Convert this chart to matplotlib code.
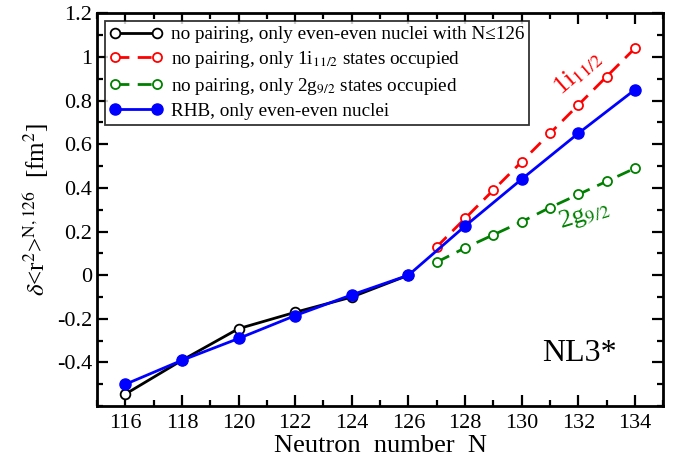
import matplotlib
matplotlib.use("Agg")
import matplotlib.pyplot as plt
from matplotlib.ticker import MultipleLocator

plt.rcParams['font.family'] = ['Liberation Serif', 'DejaVu Serif']
plt.rcParams['mathtext.fontset'] = 'stix'

# Charge radii differences relative to N=126
N_even_low = [116, 118, 120, 122, 124, 126]
r2_nopair_even = [-0.545, -0.39, -0.245, -0.17, -0.10, 0.0]

N_odd_high = [127, 128, 129, 130, 131, 132, 133, 134]
r2_i11 = [0.13, 0.26, 0.39, 0.52, 0.65, 0.78, 0.91, 1.04]
r2_g9 = [0.06, 0.125, 0.185, 0.245, 0.31, 0.37, 0.43, 0.49]

N_rhb = [116, 118, 120, 122, 124, 126, 128, 130, 132, 134]
r2_rhb = [-0.50, -0.39, -0.29, -0.185, -0.09, 0.0, 0.225, 0.44, 0.65, 0.85]

fig = plt.figure(figsize=(6.83, 4.61), dpi=100)
ax = fig.add_axes([0.142, 0.119, 0.829, 0.852])

ax.plot(N_even_low, r2_nopair_even, color='black', lw=2, marker='o', ms=7,
        mfc='white', mec='black', mew=1.3,
        label='no pairing, only even-even nuclei with N≤126')
ax.plot(N_odd_high, r2_i11, color='red', lw=2, ls=(0, (5, 3)), marker='o', ms=6.5,
        mfc='white', mec='red', mew=1.3,
        label=r'no pairing, only 1i$_{11/2}$ states occupied')
ax.plot(N_odd_high, r2_g9, color='#008000', lw=2, ls=(0, (5, 3)), marker='o', ms=6.5,
        mfc='white', mec='#008000', mew=1.3,
        label=r'no pairing, only 2g$_{9/2}$ states occupied')
ax.plot(N_rhb, r2_rhb, color='blue', lw=2, marker='o', ms=8,
        mfc='blue', mec='blue', label='RHB, only even-even nuclei')

ax.set_xlim(115, 135)
ax.set_ylim(-0.6, 1.2)
ax.xaxis.set_major_locator(MultipleLocator(2))
ax.xaxis.set_minor_locator(MultipleLocator(1))
ax.yaxis.set_minor_locator(MultipleLocator(0.1))
ax.set_yticks([-0.4, -0.2, 0, 0.2, 0.4, 0.6, 0.8, 1.0, 1.2])
ax.set_yticklabels(['-0.4', '-0.2', '0', '0.2', '0.4', '0.6', '0.8', '1', '1.2'])
ax.tick_params(which='both', direction='in', top=True, right=True, width=1.6)
ax.tick_params(which='major', length=8, labelsize=16)
ax.tick_params(axis='x', which='major', pad=6)
ax.tick_params(which='minor', length=4)
for s in ax.spines.values():
    s.set_linewidth(2)

ax.set_xlabel('Neutron  number  N', fontsize=19, labelpad=1)
ax.set_ylabel(r'$\delta$<r$^2$>$^{\rm N,126}$  [fm$^2$]', fontsize=18, labelpad=4)

leg = ax.legend(loc='upper left', numpoints=2, fontsize=13.8, handlelength=2.8,
                frameon=True, fancybox=False, edgecolor='black',
                borderaxespad=0.4, labelspacing=0.3, handletextpad=0.4,
                borderpad=0.25)
leg.get_frame().set_linewidth(1.3)

ax.text(132.0, 0.93, r'1i$_{11/2}$', color='red', fontsize=19, rotation=41,
        ha='center', va='center')
ax.text(132.2, 0.275, r'2g$_{9/2}$', color='#008000', fontsize=19, rotation=17,
        ha='center', va='center')
ax.text(132.05, -0.36, 'NL3*', fontsize=23, ha='center', va='center')

fig.savefig('out.png', dpi=100)
